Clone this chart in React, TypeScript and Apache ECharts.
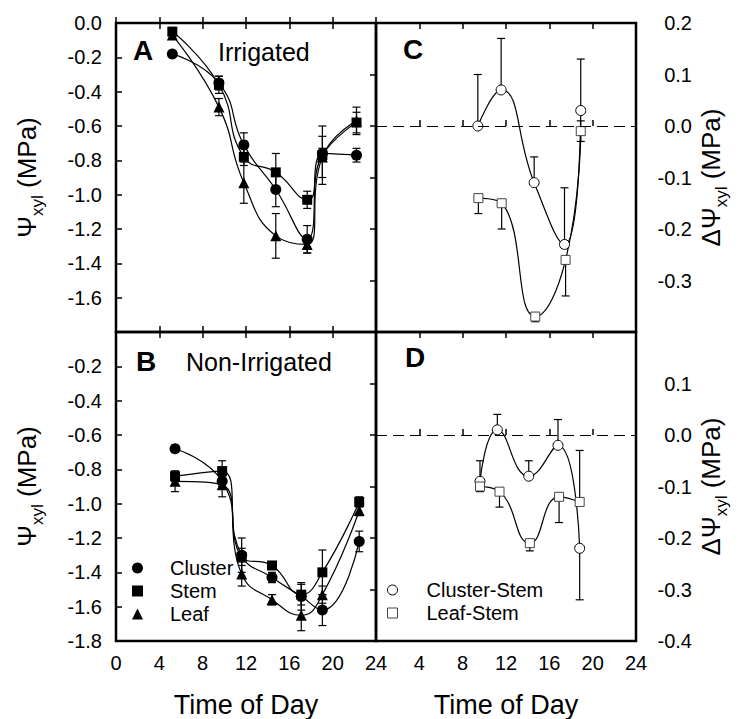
import React, { useEffect, useRef } from 'react';
import * as echarts from 'echarts';

// ---------- Data ----------
// Panel A (Irrigated)
const timeA = [5.2, 9.5, 11.8, 14.75, 17.65, 19.05, 22.2];
const clusterA = [-0.18, -0.35, -0.71, -0.97, -1.26, -0.76, -0.77];
const clusterAErr = [0.01, 0.04, 0.07, 0.1, 0.08, 0.03, 0.04];
const stemA = [-0.05, -0.36, -0.78, -0.87, -1.03, -0.77, -0.58];
const stemAErr = [0.02, 0.05, 0.05, 0.11, 0.05, 0.17, 0.06];
const leafA = [-0.07, -0.49, -0.93, -1.24, -1.29, -0.78, -0.57];
const leafAErr = [0.02, 0.05, 0.12, 0.13, 0.05, 0.12, 0.08];

// Panel B (Non-Irrigated)
const timeB = [5.45, 9.8, 11.6, 14.4, 17.1, 19.05, 22.45];
const clusterB = [-0.68, -0.87, -1.3, -1.43, -1.54, -1.62, -1.22];
const clusterBErr = [0.02, 0.03, 0.1, 0.03, 0.08, 0.09, 0.06];
const stemB = [-0.84, -0.81, -1.31, -1.36, -1.53, -1.4, -0.99];
const stemBErr = [0.03, 0.06, 0.05, 0.02, 0.06, 0.13, 0.03];
const leafB = [-0.87, -0.89, -1.41, -1.56, -1.65, -1.53, -1.04];
const leafBErr = [0.06, 0.07, 0.07, 0.03, 0.09, 0.05, 0.03];

// Panel C (Irrigated differences)
const timeCcs = [9.4, 11.55, 14.6, 17.4, 18.9];
const clusterStemC = [0.0, 0.07, -0.11, -0.23, 0.03];
const clusterStemCUp = [0.1, 0.1, 0.05, 0.11, 0.1];
const clusterStemCDown = [0, 0, 0, 0, 0];
const timeCls = [9.45, 11.6, 14.7, 17.5, 18.9];
const leafStemC = [-0.14, -0.15, -0.37, -0.26, -0.01];
const leafStemCUp = [0, 0, 0, 0, 0.02];
const leafStemCDown = [0.03, 0.05, 0.01, 0.07, 0.02];

// Panel D (Non-irrigated differences)
const timeDcs = [9.6, 11.2, 14.1, 16.8, 18.8];
const clusterStemD = [-0.09, 0.01, -0.08, -0.02, -0.22];
const clusterStemDUp = [0.04, 0.03, 0.03, 0.05, 0];
const clusterStemDDown = [0, 0, 0, 0, 0.1];
const timeDls = [9.6, 11.4, 14.2, 16.9, 18.8];
const leafStemD = [-0.1, -0.11, -0.21, -0.12, -0.13];
const leafStemDUp = [0, 0, 0, 0, 0.1];
const leafStemDDown = [0.01, 0.03, 0.015, 0.05, 0];

const FONT = '"Liberation Sans", Arial, Helvetica, sans-serif';

const fmt = (v: number) => {
  const s = v.toFixed(1);
  return s === '-0.0' ? '0.0' : s;
};

export default function App() {
  const ref = useRef<HTMLDivElement>(null);

  useEffect(() => {
    const chart = echarts.init(ref.current!, null, { renderer: 'svg' });

    const L = 116, M = 376, R = 636, T = 23, MID = 332, BOT = 642;
    const W = M - L;
    const grids = [
      { left: L, top: T, width: W, height: MID - T },
      { left: L, top: MID, width: W, height: BOT - MID },
      { left: M, top: T, width: R - M, height: MID - T },
      { left: M, top: MID, width: R - M, height: BOT - MID },
    ].map((g) => ({ ...g, show: true, borderColor: '#000', borderWidth: 2.5, backgroundColor: 'transparent' }));

    const tickStyle = { show: true, inside: true, length: 6, lineStyle: { color: '#000', width: 1.5 } };

    const xAxes: any[] = [];
    for (let g = 0; g < 4; g++) {
      const showLabels = g === 1 || g === 3;
      xAxes.push({
        type: 'value', gridIndex: g, position: 'bottom', min: 0, max: 24, interval: 4,
        axisLine: { show: false }, splitLine: { show: false },
        axisTick: tickStyle,
        axisLabel: {
          show: showLabels, fontSize: 20, fontFamily: FONT, color: '#000', margin: 12,
          showMinLabel: true, showMaxLabel: true,
          formatter: (v: number) => (g === 3 && v === 0 ? '' : String(v)),
        },
        name: showLabels ? 'Time of Day' : '',
        nameLocation: 'middle', nameGap: 50,
        nameTextStyle: { fontSize: 27, fontFamily: FONT, color: '#000' },
      });
      xAxes.push({
        type: 'value', gridIndex: g, position: 'top', min: 0, max: 24, interval: 4,
        axisLine: { show: false }, splitLine: { show: false },
        axisTick: tickStyle, axisLabel: { show: false },
      });
    }

    const rich = {
      p: { fontSize: 26, fontFamily: FONT, color: '#000', verticalAlign: 'bottom', padding: [0, 0, 6, 0] },
      s: { fontSize: 17, fontFamily: FONT, color: '#000', verticalAlign: 'bottom' },
    };

    const yAxes: any[] = [
      {
        type: 'value', gridIndex: 0, position: 'left', min: -1.8, max: 0, interval: 0.2,
        axisLine: { show: false }, splitLine: { show: false }, axisTick: tickStyle,
        axisLabel: { fontSize: 20, fontFamily: FONT, color: '#000', margin: 14, showMinLabel: true, showMaxLabel: true,
          formatter: (v: number) => (v < -1.79 ? '' : fmt(v)) },
        name: '{p|Ψ}{s|xyl}{p| (MPa)}', nameLocation: 'middle', nameGap: 70, nameRotate: 90,
        nameTextStyle: { rich },
      },
      {
        type: 'value', gridIndex: 1, position: 'left', min: -1.8, max: 0, interval: 0.2,
        axisLine: { show: false }, splitLine: { show: false }, axisTick: tickStyle,
        axisLabel: { fontSize: 20, fontFamily: FONT, color: '#000', margin: 14, showMinLabel: true, showMaxLabel: true,
          formatter: (v: number) => (v > -0.01 ? '' : fmt(v)) },
        name: '{p|Ψ}{s|xyl}{p| (MPa)}', nameLocation: 'middle', nameGap: 70, nameRotate: 90,
        nameTextStyle: { rich },
      },
      {
        type: 'value', gridIndex: 2, position: 'right', min: -0.4, max: 0.2, interval: 0.1,
        axisLine: { show: false }, splitLine: { show: false }, axisTick: tickStyle,
        axisLabel: { fontSize: 20, fontFamily: FONT, color: '#000', margin: 56, align: 'right', showMinLabel: true, showMaxLabel: true,
          formatter: (v: number) => (v < -0.39 ? '' : fmt(v)) },
        name: '{p|ΔΨ}{s|xyl}{p| (MPa)}', nameLocation: 'middle', nameGap: 62, nameRotate: 90,
        nameTextStyle: { rich },
      },
      {
        type: 'value', gridIndex: 3, position: 'right', min: -0.4, max: 0.2, interval: 0.1,
        axisLine: { show: false }, splitLine: { show: false }, axisTick: tickStyle,
        axisLabel: { fontSize: 20, fontFamily: FONT, color: '#000', margin: 56, align: 'right', showMinLabel: true, showMaxLabel: true,
          formatter: (v: number) => (v > 0.19 ? '' : fmt(v)) },
        name: '{p|ΔΨ}{s|xyl}{p| (MPa)}', nameLocation: 'middle', nameGap: 62, nameRotate: 90,
        nameTextStyle: { rich },
      },
    ];

    const filled = { color: '#000', borderColor: '#000', borderWidth: 0 };
    const openCircle = { color: '#fff', borderColor: '#000', borderWidth: 1 };
    const openSquare = { color: '#fff', borderColor: '#444', borderWidth: 1 };

    const lineSeries = (name: string, g: number, times: number[], vals: number[], symbol: string, size: number, itemStyle: any, extra: any = {}) => ({
      type: 'line', name, xAxisIndex: 2 * g, yAxisIndex: g,
      data: times.map((t, i) => [t, vals[i]]),
      smooth: 0.5, symbol, symbolSize: size, showSymbol: true,
      lineStyle: { color: '#000', width: 1.2 },
      itemStyle, z: 4, silent: true, clip: false,
      ...extra,
    });

    const errSeries = (g: number, times: number[], vals: number[], up: number[], down: number[]) => ({
      type: 'custom', xAxisIndex: 2 * g, yAxisIndex: g, z: 2, silent: true, clip: false,
      data: times.map((t, i) => [t, vals[i], up[i], down[i]]),
      renderItem: (_p: any, api: any) => {
        const x = api.value(0), y = api.value(1), u = api.value(2), d = api.value(3);
        const top = api.coord([x, y + u]);
        const bot = api.coord([x, y - d]);
        const w = 4;
        const st = { stroke: '#000', lineWidth: 1.2 };
        const children: any[] = [
          { type: 'line', shape: { x1: top[0], y1: top[1], x2: bot[0], y2: bot[1] }, style: st },
        ];
        if (u > 0) children.push({ type: 'line', shape: { x1: top[0] - w, y1: top[1], x2: top[0] + w, y2: top[1] }, style: st });
        if (d > 0) children.push({ type: 'line', shape: { x1: bot[0] - w, y1: bot[1], x2: bot[0] + w, y2: bot[1] }, style: st });
        return { type: 'group', children };
      },
    });

    const zeroLine = {
      markLine: {
        silent: true, symbol: ['none', 'none'], label: { show: false },
        lineStyle: { color: '#000', width: 1, type: [11, 6] },
        data: [{ yAxis: 0 }],
      },
    };

    const series: any[] = [
      errSeries(0, timeA, clusterA, clusterAErr, clusterAErr),
      errSeries(0, timeA, stemA, stemAErr, stemAErr),
      errSeries(0, timeA, leafA, leafAErr, leafAErr),
      lineSeries('Cluster', 0, timeA, clusterA, 'circle', 11, filled),
      lineSeries('Stem', 0, timeA, stemA, 'rect', 10, filled),
      lineSeries('Leaf', 0, timeA, leafA, 'triangle', 11, filled),

      errSeries(1, timeB, clusterB, clusterBErr, clusterBErr),
      errSeries(1, timeB, stemB, stemBErr, stemBErr),
      errSeries(1, timeB, leafB, leafBErr, leafBErr),
      lineSeries('Cluster', 1, timeB, clusterB, 'circle', 11, filled),
      lineSeries('Stem', 1, timeB, stemB, 'rect', 10, filled),
      lineSeries('Leaf', 1, timeB, leafB, 'triangle', 11, filled),

      errSeries(2, timeCcs, clusterStemC, clusterStemCUp, clusterStemCDown),
      errSeries(2, timeCls, leafStemC, leafStemCUp, leafStemCDown),
      lineSeries('Cluster-Stem', 2, timeCcs, clusterStemC, 'circle', 10, openCircle, zeroLine),
      lineSeries('Leaf-Stem', 2, timeCls, leafStemC, 'rect', 9, openSquare),

      errSeries(3, timeDcs, clusterStemD, clusterStemDUp, clusterStemDDown),
      errSeries(3, timeDls, leafStemD, leafStemDUp, leafStemDDown),
      lineSeries('Cluster-Stem', 3, timeDcs, clusterStemD, 'circle', 10, openCircle, zeroLine),
      lineSeries('Leaf-Stem', 3, timeDls, leafStemD, 'rect', 9, openSquare),
    ];

    const legendStyle = (pad: number) => ({
      fontSize: 20, fontFamily: FONT, color: '#000', lineHeight: 20,
      rich: { t: { fontSize: 20, fontFamily: FONT, color: '#000', lineHeight: 20, padding: [0, 0, 0, pad] } },
    });

    const option: any = {
      animation: false,
      backgroundColor: '#fff',
      textStyle: { fontFamily: FONT },
      grid: grids,
      xAxis: xAxes,
      yAxis: yAxes,
      series,
      legend: [
        {
          orient: 'vertical', left: 127, top: 553, itemWidth: 11, itemHeight: 11, itemGap: 3,
          selectedMode: false, formatter: '{t|{name}}', textStyle: legendStyle(22),
          data: [
            { name: 'Cluster', icon: 'circle', itemStyle: filled },
            { name: 'Stem', icon: 'rect', itemStyle: filled },
            { name: 'Leaf', icon: 'triangle', itemStyle: filled },
          ],
        },
        {
          orient: 'vertical', left: 382, top: 575, itemWidth: 10, itemHeight: 10, itemGap: 3,
          selectedMode: false, formatter: '{t|{name}}', textStyle: legendStyle(24),
          data: [
            { name: 'Cluster-Stem', icon: 'circle', itemStyle: openCircle },
            { name: 'Leaf-Stem', icon: 'rect', itemStyle: openSquare },
          ],
        },
      ],
      graphic: [
        { type: 'text', x: 143, y: 50, style: { text: 'A', font: `bold 28px ${FONT}`, fill: '#000', align: 'center', verticalAlign: 'middle' } },
        { type: 'text', x: 218, y: 52, style: { text: 'Irrigated', font: `25px ${FONT}`, fill: '#000', align: 'left', verticalAlign: 'middle' } },
        { type: 'text', x: 146, y: 361, style: { text: 'B', font: `bold 28px ${FONT}`, fill: '#000', align: 'center', verticalAlign: 'middle' } },
        { type: 'text', x: 186, y: 362, style: { text: 'Non-Irrigated', font: `25px ${FONT}`, fill: '#000', align: 'left', verticalAlign: 'middle' } },
        { type: 'text', x: 413, y: 49, style: { text: 'C', font: `bold 28px ${FONT}`, fill: '#000', align: 'center', verticalAlign: 'middle' } },
        { type: 'text', x: 415, y: 357, style: { text: 'D', font: `bold 28px ${FONT}`, fill: '#000', align: 'center', verticalAlign: 'middle' } },
      ],
    };

    chart.setOption(option);
    return () => chart.dispose();
  }, []);

  return (
    <div
      ref={ref}
      style={{ position: 'absolute', left: 0, top: 0, width: 740, height: 719, background: '#fff' }}
    />
  );
}
